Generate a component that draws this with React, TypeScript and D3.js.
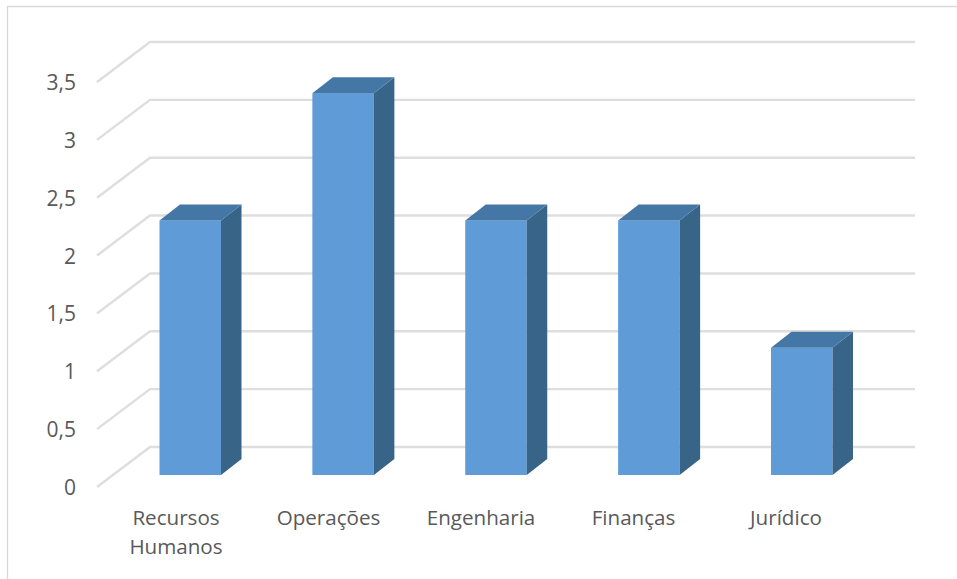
import React from "react";
import * as d3 from "d3";

const categories = [["Recursos", "Humanos"], ["Operações"], ["Engenharia"], ["Finanças"], ["Jurídico"]];
const values = [2.2, 3.3, 2.2, 2.2, 1.1];
const yTicks = [0, 0.5, 1, 1.5, 2, 2.5, 3, 3.5];
const fmt = (v: number) => String(v).replace(".", ",");

const WIDTH = 957;
const HEIGHT = 579;
const FONT = "'Open Sans', sans-serif";
const GRID = "#dedede";
const TEXT = "#595959";

// Oblique depth of the 3D floor and of the columns standing on it.
const wallDx = 53;
const wallDy = -40;
const barDx = 20.5;
const barDy = -16;

const yFront = d3.scaleLinear().domain([0, 3.5]).range([487, 82]);
const yBar = d3.scaleLinear().domain([0, 3.5]).range([475, 70]);
const xLabel = d3.scaleLinear().domain([0, 4]).range([176, 786]);
const xBar = d3.scaleLinear().domain([0, 4]).range([159.5, 771]);

const line = d3.line();

export default function App() {
  const barW = 61.5;
  return (
    <svg
      width={WIDTH}
      height={HEIGHT}
      style={{ position: "absolute", left: 0, top: 0, background: "#fff" }}
    >
      <path d="M7.5,579V6.5H957" fill="none" stroke="#d9d9d9" strokeWidth={1.3} />
      {yTicks.map((t) => {
        const y = yFront(t);
        return (
          <g key={t}>
            <path
              d={
                line([
                  [97, y],
                  [97 + wallDx, y + wallDy],
                  [915, y + wallDy],
                ]) ?? ""
              }
              fill="none"
              stroke={GRID}
              strokeWidth={2.4}
            />
            <text
              x={76}
              y={y + 8}
              textAnchor="end"
              fontFamily={FONT}
              fontSize={21}
              fill={TEXT}
            >
              {fmt(t)}
            </text>
          </g>
        );
      })}
      {values.map((v, i) => {
        const x0 = xBar(i);
        const x1 = x0 + barW;
        const top = yBar(v);
        const base = yBar(0);
        return (
          <g key={i}>
            <rect x={x0} y={top} width={barW} height={base - top} fill="#5e9bd7" />
            <path
              d={`M${x1},${top}L${x1 + barDx},${top + barDy}V${base + barDy}L${x1},${base}Z`}
              fill="#386587"
            />
            <path
              d={`M${x0},${top}L${x0 + barDx},${top + barDy}H${x1 + barDx}L${x1},${top}Z`}
              fill="#4477a5"
            />
          </g>
        );
      })}
      {categories.map((lines, i) => (
        <text
          key={i}
          textAnchor="middle"
          fontFamily={FONT}
          fontSize={20.6}
          fill={TEXT}
        >
          {lines.map((l, j) => (
            <tspan key={j} x={xLabel(i)} y={525 + j * 29}>
              {l}
            </tspan>
          ))}
        </text>
      ))}
    </svg>
  );
}
